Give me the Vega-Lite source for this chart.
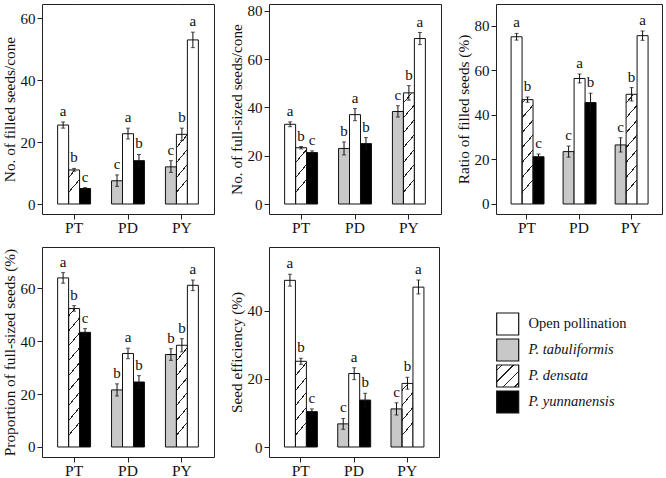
{
"$schema": "https://vega.github.io/schema/vega-lite/v6.json",
"padding": {"left": 1, "top": 3, "right": 0, "bottom": 0},
"background": "white",
"datasets": {
"d": [
{"panel":1,"grp":"PT","slot":"tab","trt":"Open pollination","mean":25.5,"lo":24.5,"hi":26.5,"letter":"a"},
{"panel":1,"grp":"PT","slot":"den","trt":"P. densata","mean":11,"lo":10.6,"hi":11.5,"letter":"b"},
{"panel":1,"grp":"PT","slot":"yun","trt":"P. yunnanensis","mean":5,"lo":4.7,"hi":5.3,"letter":"c"},
{"panel":1,"grp":"PD","slot":"tab","trt":"P. tabuliformis","mean":7.5,"lo":5.7,"hi":9.4,"letter":"c"},
{"panel":1,"grp":"PD","slot":"den","trt":"Open pollination","mean":22.7,"lo":21,"hi":24.5,"letter":"a"},
{"panel":1,"grp":"PD","slot":"yun","trt":"P. yunnanensis","mean":14,"lo":12,"hi":16,"letter":"b"},
{"panel":1,"grp":"PY","slot":"tab","trt":"P. tabuliformis","mean":12,"lo":10.2,"hi":14,"letter":"c"},
{"panel":1,"grp":"PY","slot":"den","trt":"P. densata","mean":22.5,"lo":20.5,"hi":24.5,"letter":"b"},
{"panel":1,"grp":"PY","slot":"yun","trt":"Open pollination","mean":53,"lo":50.5,"hi":55.5,"letter":"a"},
{"panel":2,"grp":"PT","slot":"tab","trt":"Open pollination","mean":33,"lo":32,"hi":34,"letter":"a"},
{"panel":2,"grp":"PT","slot":"den","trt":"P. densata","mean":23.3,"lo":22.8,"hi":23.8,"letter":"b"},
{"panel":2,"grp":"PT","slot":"yun","trt":"P. yunnanensis","mean":21.3,"lo":20.7,"hi":22,"letter":"c"},
{"panel":2,"grp":"PD","slot":"tab","trt":"P. tabuliformis","mean":23,"lo":20.3,"hi":25.7,"letter":"b"},
{"panel":2,"grp":"PD","slot":"den","trt":"Open pollination","mean":37,"lo":34.5,"hi":39.5,"letter":"a"},
{"panel":2,"grp":"PD","slot":"yun","trt":"P. yunnanensis","mean":25,"lo":22.5,"hi":27.5,"letter":"b"},
{"panel":2,"grp":"PY","slot":"tab","trt":"P. tabuliformis","mean":38.3,"lo":36,"hi":40.7,"letter":"c"},
{"panel":2,"grp":"PY","slot":"den","trt":"P. densata","mean":46,"lo":43,"hi":49,"letter":"b"},
{"panel":2,"grp":"PY","slot":"yun","trt":"Open pollination","mean":68.5,"lo":66,"hi":71,"letter":"a"},
{"panel":3,"grp":"PT","slot":"tab","trt":"Open pollination","mean":75,"lo":73.5,"hi":76.5,"letter":"a"},
{"panel":3,"grp":"PT","slot":"den","trt":"P. densata","mean":46.8,"lo":45.6,"hi":48,"letter":"b"},
{"panel":3,"grp":"PT","slot":"yun","trt":"P. yunnanensis","mean":21.2,"lo":20,"hi":22.4,"letter":"c"},
{"panel":3,"grp":"PD","slot":"tab","trt":"P. tabuliformis","mean":23.5,"lo":21,"hi":26,"letter":"c"},
{"panel":3,"grp":"PD","slot":"den","trt":"Open pollination","mean":56.3,"lo":54.3,"hi":58.3,"letter":"a"},
{"panel":3,"grp":"PD","slot":"yun","trt":"P. yunnanensis","mean":45.5,"lo":41.3,"hi":49.7,"letter":"b"},
{"panel":3,"grp":"PY","slot":"tab","trt":"P. tabuliformis","mean":26.5,"lo":23.3,"hi":29.7,"letter":"c"},
{"panel":3,"grp":"PY","slot":"den","trt":"P. densata","mean":49.2,"lo":46.2,"hi":52.2,"letter":"b"},
{"panel":3,"grp":"PY","slot":"yun","trt":"Open pollination","mean":75.5,"lo":73.4,"hi":77.6,"letter":"a"},
{"panel":4,"grp":"PT","slot":"tab","trt":"Open pollination","mean":64,"lo":62,"hi":66,"letter":"a"},
{"panel":4,"grp":"PT","slot":"den","trt":"P. densata","mean":52.4,"lo":51.4,"hi":53.5,"letter":"b"},
{"panel":4,"grp":"PT","slot":"yun","trt":"P. yunnanensis","mean":43.4,"lo":42,"hi":44.8,"letter":"c"},
{"panel":4,"grp":"PD","slot":"tab","trt":"P. tabuliformis","mean":21.6,"lo":19.3,"hi":23.9,"letter":"b"},
{"panel":4,"grp":"PD","slot":"den","trt":"Open pollination","mean":35.4,"lo":33.4,"hi":37.4,"letter":"a"},
{"panel":4,"grp":"PD","slot":"yun","trt":"P. yunnanensis","mean":24.6,"lo":22.3,"hi":27,"letter":"b"},
{"panel":4,"grp":"PY","slot":"tab","trt":"P. tabuliformis","mean":35,"lo":32.8,"hi":37.2,"letter":"b"},
{"panel":4,"grp":"PY","slot":"den","trt":"P. densata","mean":38.5,"lo":36,"hi":41,"letter":"b"},
{"panel":4,"grp":"PY","slot":"yun","trt":"Open pollination","mean":61.2,"lo":59.2,"hi":63.2,"letter":"a"},
{"panel":5,"grp":"PT","slot":"tab","trt":"Open pollination","mean":49,"lo":47.3,"hi":50.8,"letter":"a"},
{"panel":5,"grp":"PT","slot":"den","trt":"P. densata","mean":25.2,"lo":24.3,"hi":26.1,"letter":"b"},
{"panel":5,"grp":"PT","slot":"yun","trt":"P. yunnanensis","mean":10.4,"lo":9.6,"hi":11.2,"letter":"c"},
{"panel":5,"grp":"PD","slot":"tab","trt":"P. tabuliformis","mean":6.8,"lo":5.2,"hi":8.4,"letter":"c"},
{"panel":5,"grp":"PD","slot":"den","trt":"Open pollination","mean":21.6,"lo":19.8,"hi":23.3,"letter":"a"},
{"panel":5,"grp":"PD","slot":"yun","trt":"P. yunnanensis","mean":13.8,"lo":11.8,"hi":15.8,"letter":"b"},
{"panel":5,"grp":"PY","slot":"tab","trt":"P. tabuliformis","mean":11.2,"lo":9.4,"hi":13,"letter":"c"},
{"panel":5,"grp":"PY","slot":"den","trt":"P. densata","mean":18.7,"lo":17,"hi":20.5,"letter":"b"},
{"panel":5,"grp":"PY","slot":"yun","trt":"Open pollination","mean":47,"lo":45,"hi":49.1,"letter":"a"}
],
"legend": [
{"trt":"Open pollination"},{"trt":"P. tabuliformis"},{"trt":"P. densata"},{"trt":"P. yunnanensis"}
]
},
"spacing": 10,
"vconcat": [
{"spacing": 13, "hconcat": [
{
"width": 172, "height": 210,
"data": {"name": "d"},
"transform": [{"filter": "datum.panel == 1"}],
"encoding": {
"x": {"field": "grp", "type": "nominal", "scale": {"domain": ["PT","PD","PY"], "paddingInner": 0.389, "paddingOuter": 0.29}, "axis": {"title": null}},
"xOffset": {"field": "slot", "type": "nominal", "scale": {"domain": ["tab","den","yun"], "paddingInner": 0, "paddingOuter": 0}}
},
"layer": [
{"transform": [{"filter": "datum.trt == 'P. densata'"}],
"mark": {"type": "bar", "stroke": null, "fill": {"gradient": "linear", "x1": 0, "y1": 0, "x2": 0.066, "y2": 1, "stops": [{"offset":0,"color":"#ffffff"},{"offset":0.034,"color":"#ffffff"},{"offset":0.034,"color":"#222222"},{"offset":0.041,"color":"#222222"},{"offset":0.041,"color":"#ffffff"},{"offset":0.109,"color":"#ffffff"},{"offset":0.109,"color":"#222222"},{"offset":0.116,"color":"#222222"},{"offset":0.116,"color":"#ffffff"},{"offset":0.184,"color":"#ffffff"},{"offset":0.184,"color":"#222222"},{"offset":0.191,"color":"#222222"},{"offset":0.191,"color":"#ffffff"},{"offset":0.259,"color":"#ffffff"},{"offset":0.259,"color":"#222222"},{"offset":0.266,"color":"#222222"},{"offset":0.266,"color":"#ffffff"},{"offset":0.334,"color":"#ffffff"},{"offset":0.334,"color":"#222222"},{"offset":0.341,"color":"#222222"},{"offset":0.341,"color":"#ffffff"},{"offset":0.409,"color":"#ffffff"},{"offset":0.409,"color":"#222222"},{"offset":0.416,"color":"#222222"},{"offset":0.416,"color":"#ffffff"},{"offset":0.484,"color":"#ffffff"},{"offset":0.484,"color":"#222222"},{"offset":0.491,"color":"#222222"},{"offset":0.491,"color":"#ffffff"},{"offset":0.559,"color":"#ffffff"},{"offset":0.559,"color":"#222222"},{"offset":0.566,"color":"#222222"},{"offset":0.566,"color":"#ffffff"},{"offset":0.634,"color":"#ffffff"},{"offset":0.634,"color":"#222222"},{"offset":0.641,"color":"#222222"},{"offset":0.641,"color":"#ffffff"},{"offset":0.709,"color":"#ffffff"},{"offset":0.709,"color":"#222222"},{"offset":0.716,"color":"#222222"},{"offset":0.716,"color":"#ffffff"},{"offset":0.784,"color":"#ffffff"},{"offset":0.784,"color":"#222222"},{"offset":0.791,"color":"#222222"},{"offset":0.791,"color":"#ffffff"},{"offset":0.859,"color":"#ffffff"},{"offset":0.859,"color":"#222222"},{"offset":0.866,"color":"#222222"},{"offset":0.866,"color":"#ffffff"},{"offset":0.934,"color":"#ffffff"},{"offset":0.934,"color":"#222222"},{"offset":0.941,"color":"#222222"},{"offset":0.941,"color":"#ffffff"},{"offset":1,"color":"#ffffff"}]}},
"encoding": {"y": {"datum": 0, "type": "quantitative", "title": "No. of filled seeds/cone", "scale": {"domain": [-3.23, 64.6], "nice": false, "zero": false}, "axis": {"values": [0,20,40,60]}}, "y2": {"datum": 64.0}}},
{"transform": [{"filter": "datum.trt == 'P. densata'"}],
"mark": {"type": "bar", "fill": "#ffffff", "stroke": "#ffffff", "strokeWidth": 1},
"encoding": {"y": {"field": "mean", "type": "quantitative", "title": "No. of filled seeds/cone"}, "y2": {"datum": 64.0}}},
{"mark": {"type": "bar", "stroke": "#111111", "strokeWidth": 1},
"encoding": {"y": {"field": "mean", "type": "quantitative", "title": "No. of filled seeds/cone"}, "y2": {"datum": 0},
"fill": {"field": "trt", "type": "nominal", "scale": {"domain": ["Open pollination","P. tabuliformis","P. densata","P. yunnanensis"], "range": ["#ffffff","#c8c8c8","transparent","#000000"]}, "legend": null}}},
{"mark": {"type": "rule", "color": "#111111", "strokeWidth": 1},
"encoding": {"y": {"field": "lo", "type": "quantitative", "title": "No. of filled seeds/cone"}, "y2": {"field": "hi"}}},
{"mark": {"type": "tick", "orient": "horizontal", "size": 4, "thickness": 1, "color": "#111111"},
"encoding": {"y": {"field": "hi", "type": "quantitative", "title": "No. of filled seeds/cone"}}},
{"mark": {"type": "tick", "orient": "horizontal", "size": 4, "thickness": 1, "color": "#111111"},
"encoding": {"y": {"field": "lo", "type": "quantitative", "title": "No. of filled seeds/cone"}}},
{"mark": {"type": "text", "dy": -6, "fontSize": 15, "baseline": "alphabetic", "fill": "#111111"},
"encoding": {"y": {"field": "hi", "type": "quantitative", "title": "No. of filled seeds/cone"}, "text": {"field": "letter"}}}
]
},
{
"width": 172, "height": 210,
"data": {"name": "d"},
"transform": [{"filter": "datum.panel == 2"}],
"encoding": {
"x": {"field": "grp", "type": "nominal", "scale": {"domain": ["PT","PD","PY"], "paddingInner": 0.389, "paddingOuter": 0.29}, "axis": {"title": null}},
"xOffset": {"field": "slot", "type": "nominal", "scale": {"domain": ["tab","den","yun"], "paddingInner": 0, "paddingOuter": 0}}
},
"layer": [
{"transform": [{"filter": "datum.trt == 'P. densata'"}],
"mark": {"type": "bar", "stroke": null, "fill": {"gradient": "linear", "x1": 0, "y1": 0, "x2": 0.066, "y2": 1, "stops": [{"offset":0,"color":"#ffffff"},{"offset":0.034,"color":"#ffffff"},{"offset":0.034,"color":"#222222"},{"offset":0.041,"color":"#222222"},{"offset":0.041,"color":"#ffffff"},{"offset":0.109,"color":"#ffffff"},{"offset":0.109,"color":"#222222"},{"offset":0.116,"color":"#222222"},{"offset":0.116,"color":"#ffffff"},{"offset":0.184,"color":"#ffffff"},{"offset":0.184,"color":"#222222"},{"offset":0.191,"color":"#222222"},{"offset":0.191,"color":"#ffffff"},{"offset":0.259,"color":"#ffffff"},{"offset":0.259,"color":"#222222"},{"offset":0.266,"color":"#222222"},{"offset":0.266,"color":"#ffffff"},{"offset":0.334,"color":"#ffffff"},{"offset":0.334,"color":"#222222"},{"offset":0.341,"color":"#222222"},{"offset":0.341,"color":"#ffffff"},{"offset":0.409,"color":"#ffffff"},{"offset":0.409,"color":"#222222"},{"offset":0.416,"color":"#222222"},{"offset":0.416,"color":"#ffffff"},{"offset":0.484,"color":"#ffffff"},{"offset":0.484,"color":"#222222"},{"offset":0.491,"color":"#222222"},{"offset":0.491,"color":"#ffffff"},{"offset":0.559,"color":"#ffffff"},{"offset":0.559,"color":"#222222"},{"offset":0.566,"color":"#222222"},{"offset":0.566,"color":"#ffffff"},{"offset":0.634,"color":"#ffffff"},{"offset":0.634,"color":"#222222"},{"offset":0.641,"color":"#222222"},{"offset":0.641,"color":"#ffffff"},{"offset":0.709,"color":"#ffffff"},{"offset":0.709,"color":"#222222"},{"offset":0.716,"color":"#222222"},{"offset":0.716,"color":"#ffffff"},{"offset":0.784,"color":"#ffffff"},{"offset":0.784,"color":"#222222"},{"offset":0.791,"color":"#222222"},{"offset":0.791,"color":"#ffffff"},{"offset":0.859,"color":"#ffffff"},{"offset":0.859,"color":"#222222"},{"offset":0.866,"color":"#222222"},{"offset":0.866,"color":"#ffffff"},{"offset":0.934,"color":"#ffffff"},{"offset":0.934,"color":"#222222"},{"offset":0.941,"color":"#222222"},{"offset":0.941,"color":"#ffffff"},{"offset":1,"color":"#ffffff"}]}},
"encoding": {"y": {"datum": 0, "type": "quantitative", "title": "No. of full-sized seeds/cone", "scale": {"domain": [-4.14, 82.8], "nice": false, "zero": false}, "axis": {"values": [0,20,40,60,80]}}, "y2": {"datum": 82.0}}},
{"transform": [{"filter": "datum.trt == 'P. densata'"}],
"mark": {"type": "bar", "fill": "#ffffff", "stroke": "#ffffff", "strokeWidth": 1},
"encoding": {"y": {"field": "mean", "type": "quantitative", "title": "No. of full-sized seeds/cone"}, "y2": {"datum": 82.0}}},
{"mark": {"type": "bar", "stroke": "#111111", "strokeWidth": 1},
"encoding": {"y": {"field": "mean", "type": "quantitative", "title": "No. of full-sized seeds/cone"}, "y2": {"datum": 0},
"fill": {"field": "trt", "type": "nominal", "scale": {"domain": ["Open pollination","P. tabuliformis","P. densata","P. yunnanensis"], "range": ["#ffffff","#c8c8c8","transparent","#000000"]}, "legend": null}}},
{"mark": {"type": "rule", "color": "#111111", "strokeWidth": 1},
"encoding": {"y": {"field": "lo", "type": "quantitative", "title": "No. of full-sized seeds/cone"}, "y2": {"field": "hi"}}},
{"mark": {"type": "tick", "orient": "horizontal", "size": 4, "thickness": 1, "color": "#111111"},
"encoding": {"y": {"field": "hi", "type": "quantitative", "title": "No. of full-sized seeds/cone"}}},
{"mark": {"type": "tick", "orient": "horizontal", "size": 4, "thickness": 1, "color": "#111111"},
"encoding": {"y": {"field": "lo", "type": "quantitative", "title": "No. of full-sized seeds/cone"}}},
{"mark": {"type": "text", "dy": -6, "fontSize": 15, "baseline": "alphabetic", "fill": "#111111"},
"encoding": {"y": {"field": "hi", "type": "quantitative", "title": "No. of full-sized seeds/cone"}, "text": {"field": "letter"}}}
]
},
{
"width": 166, "height": 210,
"data": {"name": "d"},
"transform": [{"filter": "datum.panel == 3"}],
"encoding": {
"x": {"field": "grp", "type": "nominal", "scale": {"domain": ["PT","PD","PY"], "paddingInner": 0.389, "paddingOuter": 0.29}, "axis": {"title": null}},
"xOffset": {"field": "slot", "type": "nominal", "scale": {"domain": ["tab","den","yun"], "paddingInner": 0, "paddingOuter": 0}}
},
"layer": [
{"transform": [{"filter": "datum.trt == 'P. densata'"}],
"mark": {"type": "bar", "stroke": null, "fill": {"gradient": "linear", "x1": 0, "y1": 0, "x2": 0.064, "y2": 1, "stops": [{"offset":0,"color":"#ffffff"},{"offset":0.034,"color":"#ffffff"},{"offset":0.034,"color":"#222222"},{"offset":0.041,"color":"#222222"},{"offset":0.041,"color":"#ffffff"},{"offset":0.109,"color":"#ffffff"},{"offset":0.109,"color":"#222222"},{"offset":0.116,"color":"#222222"},{"offset":0.116,"color":"#ffffff"},{"offset":0.184,"color":"#ffffff"},{"offset":0.184,"color":"#222222"},{"offset":0.191,"color":"#222222"},{"offset":0.191,"color":"#ffffff"},{"offset":0.259,"color":"#ffffff"},{"offset":0.259,"color":"#222222"},{"offset":0.266,"color":"#222222"},{"offset":0.266,"color":"#ffffff"},{"offset":0.334,"color":"#ffffff"},{"offset":0.334,"color":"#222222"},{"offset":0.341,"color":"#222222"},{"offset":0.341,"color":"#ffffff"},{"offset":0.409,"color":"#ffffff"},{"offset":0.409,"color":"#222222"},{"offset":0.416,"color":"#222222"},{"offset":0.416,"color":"#ffffff"},{"offset":0.484,"color":"#ffffff"},{"offset":0.484,"color":"#222222"},{"offset":0.491,"color":"#222222"},{"offset":0.491,"color":"#ffffff"},{"offset":0.559,"color":"#ffffff"},{"offset":0.559,"color":"#222222"},{"offset":0.566,"color":"#222222"},{"offset":0.566,"color":"#ffffff"},{"offset":0.634,"color":"#ffffff"},{"offset":0.634,"color":"#222222"},{"offset":0.641,"color":"#222222"},{"offset":0.641,"color":"#ffffff"},{"offset":0.709,"color":"#ffffff"},{"offset":0.709,"color":"#222222"},{"offset":0.716,"color":"#222222"},{"offset":0.716,"color":"#ffffff"},{"offset":0.784,"color":"#ffffff"},{"offset":0.784,"color":"#222222"},{"offset":0.791,"color":"#222222"},{"offset":0.791,"color":"#ffffff"},{"offset":0.859,"color":"#ffffff"},{"offset":0.859,"color":"#222222"},{"offset":0.866,"color":"#222222"},{"offset":0.866,"color":"#ffffff"},{"offset":0.934,"color":"#ffffff"},{"offset":0.934,"color":"#222222"},{"offset":0.941,"color":"#222222"},{"offset":0.941,"color":"#ffffff"},{"offset":1,"color":"#ffffff"}]}},
"encoding": {"y": {"datum": 0, "type": "quantitative", "title": "Ratio of filled seeds (%)", "scale": {"domain": [-4.49, 89.7], "nice": false, "zero": false}, "axis": {"values": [0,20,40,60,80]}}, "y2": {"datum": 88.8}}},
{"transform": [{"filter": "datum.trt == 'P. densata'"}],
"mark": {"type": "bar", "fill": "#ffffff", "stroke": "#ffffff", "strokeWidth": 1},
"encoding": {"y": {"field": "mean", "type": "quantitative", "title": "Ratio of filled seeds (%)"}, "y2": {"datum": 88.8}}},
{"mark": {"type": "bar", "stroke": "#111111", "strokeWidth": 1},
"encoding": {"y": {"field": "mean", "type": "quantitative", "title": "Ratio of filled seeds (%)"}, "y2": {"datum": 0},
"fill": {"field": "trt", "type": "nominal", "scale": {"domain": ["Open pollination","P. tabuliformis","P. densata","P. yunnanensis"], "range": ["#ffffff","#c8c8c8","transparent","#000000"]}, "legend": null}}},
{"mark": {"type": "rule", "color": "#111111", "strokeWidth": 1},
"encoding": {"y": {"field": "lo", "type": "quantitative", "title": "Ratio of filled seeds (%)"}, "y2": {"field": "hi"}}},
{"mark": {"type": "tick", "orient": "horizontal", "size": 4, "thickness": 1, "color": "#111111"},
"encoding": {"y": {"field": "hi", "type": "quantitative", "title": "Ratio of filled seeds (%)"}}},
{"mark": {"type": "tick", "orient": "horizontal", "size": 4, "thickness": 1, "color": "#111111"},
"encoding": {"y": {"field": "lo", "type": "quantitative", "title": "Ratio of filled seeds (%)"}}},
{"mark": {"type": "text", "dy": -6, "fontSize": 15, "baseline": "alphabetic", "fill": "#111111"},
"encoding": {"y": {"field": "hi", "type": "quantitative", "title": "Ratio of filled seeds (%)"}, "text": {"field": "letter"}}}
]
}
]},
{"spacing": 13, "hconcat": [
{
"width": 172, "height": 210,
"data": {"name": "d"},
"transform": [{"filter": "datum.panel == 4"}],
"encoding": {
"x": {"field": "grp", "type": "nominal", "scale": {"domain": ["PT","PD","PY"], "paddingInner": 0.389, "paddingOuter": 0.29}, "axis": {"title": null}},
"xOffset": {"field": "slot", "type": "nominal", "scale": {"domain": ["tab","den","yun"], "paddingInner": 0, "paddingOuter": 0}}
},
"layer": [
{"transform": [{"filter": "datum.trt == 'P. densata'"}],
"mark": {"type": "bar", "stroke": null, "fill": {"gradient": "linear", "x1": 0, "y1": 0, "x2": 0.066, "y2": 1, "stops": [{"offset":0,"color":"#ffffff"},{"offset":0.034,"color":"#ffffff"},{"offset":0.034,"color":"#222222"},{"offset":0.041,"color":"#222222"},{"offset":0.041,"color":"#ffffff"},{"offset":0.109,"color":"#ffffff"},{"offset":0.109,"color":"#222222"},{"offset":0.116,"color":"#222222"},{"offset":0.116,"color":"#ffffff"},{"offset":0.184,"color":"#ffffff"},{"offset":0.184,"color":"#222222"},{"offset":0.191,"color":"#222222"},{"offset":0.191,"color":"#ffffff"},{"offset":0.259,"color":"#ffffff"},{"offset":0.259,"color":"#222222"},{"offset":0.266,"color":"#222222"},{"offset":0.266,"color":"#ffffff"},{"offset":0.334,"color":"#ffffff"},{"offset":0.334,"color":"#222222"},{"offset":0.341,"color":"#222222"},{"offset":0.341,"color":"#ffffff"},{"offset":0.409,"color":"#ffffff"},{"offset":0.409,"color":"#222222"},{"offset":0.416,"color":"#222222"},{"offset":0.416,"color":"#ffffff"},{"offset":0.484,"color":"#ffffff"},{"offset":0.484,"color":"#222222"},{"offset":0.491,"color":"#222222"},{"offset":0.491,"color":"#ffffff"},{"offset":0.559,"color":"#ffffff"},{"offset":0.559,"color":"#222222"},{"offset":0.566,"color":"#222222"},{"offset":0.566,"color":"#ffffff"},{"offset":0.634,"color":"#ffffff"},{"offset":0.634,"color":"#222222"},{"offset":0.641,"color":"#222222"},{"offset":0.641,"color":"#ffffff"},{"offset":0.709,"color":"#ffffff"},{"offset":0.709,"color":"#222222"},{"offset":0.716,"color":"#222222"},{"offset":0.716,"color":"#ffffff"},{"offset":0.784,"color":"#ffffff"},{"offset":0.784,"color":"#222222"},{"offset":0.791,"color":"#222222"},{"offset":0.791,"color":"#ffffff"},{"offset":0.859,"color":"#ffffff"},{"offset":0.859,"color":"#222222"},{"offset":0.866,"color":"#222222"},{"offset":0.866,"color":"#ffffff"},{"offset":0.934,"color":"#ffffff"},{"offset":0.934,"color":"#222222"},{"offset":0.941,"color":"#222222"},{"offset":0.941,"color":"#ffffff"},{"offset":1,"color":"#ffffff"}]}},
"encoding": {"y": {"datum": 0, "type": "quantitative", "title": "Proportion of full-sized seeds (%)", "scale": {"domain": [-3.79, 75.7], "nice": false, "zero": false}, "axis": {"values": [0,20,40,60]}}, "y2": {"datum": 75.0}}},
{"transform": [{"filter": "datum.trt == 'P. densata'"}],
"mark": {"type": "bar", "fill": "#ffffff", "stroke": "#ffffff", "strokeWidth": 1},
"encoding": {"y": {"field": "mean", "type": "quantitative", "title": "Proportion of full-sized seeds (%)"}, "y2": {"datum": 75.0}}},
{"mark": {"type": "bar", "stroke": "#111111", "strokeWidth": 1},
"encoding": {"y": {"field": "mean", "type": "quantitative", "title": "Proportion of full-sized seeds (%)"}, "y2": {"datum": 0},
"fill": {"field": "trt", "type": "nominal", "scale": {"domain": ["Open pollination","P. tabuliformis","P. densata","P. yunnanensis"], "range": ["#ffffff","#c8c8c8","transparent","#000000"]}, "legend": null}}},
{"mark": {"type": "rule", "color": "#111111", "strokeWidth": 1},
"encoding": {"y": {"field": "lo", "type": "quantitative", "title": "Proportion of full-sized seeds (%)"}, "y2": {"field": "hi"}}},
{"mark": {"type": "tick", "orient": "horizontal", "size": 4, "thickness": 1, "color": "#111111"},
"encoding": {"y": {"field": "hi", "type": "quantitative", "title": "Proportion of full-sized seeds (%)"}}},
{"mark": {"type": "tick", "orient": "horizontal", "size": 4, "thickness": 1, "color": "#111111"},
"encoding": {"y": {"field": "lo", "type": "quantitative", "title": "Proportion of full-sized seeds (%)"}}},
{"mark": {"type": "text", "dy": -6, "fontSize": 15, "baseline": "alphabetic", "fill": "#111111"},
"encoding": {"y": {"field": "hi", "type": "quantitative", "title": "Proportion of full-sized seeds (%)"}, "text": {"field": "letter"}}}
]
},
{
"width": 170, "height": 210,
"data": {"name": "d"},
"transform": [{"filter": "datum.panel == 5"}],
"encoding": {
"x": {"field": "grp", "type": "nominal", "scale": {"domain": ["PT","PD","PY"], "paddingInner": 0.389, "paddingOuter": 0.29}, "axis": {"title": null}},
"xOffset": {"field": "slot", "type": "nominal", "scale": {"domain": ["tab","den","yun"], "paddingInner": 0, "paddingOuter": 0}}
},
"layer": [
{"transform": [{"filter": "datum.trt == 'P. densata'"}],
"mark": {"type": "bar", "stroke": null, "fill": {"gradient": "linear", "x1": 0, "y1": 0, "x2": 0.066, "y2": 1, "stops": [{"offset":0,"color":"#ffffff"},{"offset":0.034,"color":"#ffffff"},{"offset":0.034,"color":"#222222"},{"offset":0.041,"color":"#222222"},{"offset":0.041,"color":"#ffffff"},{"offset":0.109,"color":"#ffffff"},{"offset":0.109,"color":"#222222"},{"offset":0.116,"color":"#222222"},{"offset":0.116,"color":"#ffffff"},{"offset":0.184,"color":"#ffffff"},{"offset":0.184,"color":"#222222"},{"offset":0.191,"color":"#222222"},{"offset":0.191,"color":"#ffffff"},{"offset":0.259,"color":"#ffffff"},{"offset":0.259,"color":"#222222"},{"offset":0.266,"color":"#222222"},{"offset":0.266,"color":"#ffffff"},{"offset":0.334,"color":"#ffffff"},{"offset":0.334,"color":"#222222"},{"offset":0.341,"color":"#222222"},{"offset":0.341,"color":"#ffffff"},{"offset":0.409,"color":"#ffffff"},{"offset":0.409,"color":"#222222"},{"offset":0.416,"color":"#222222"},{"offset":0.416,"color":"#ffffff"},{"offset":0.484,"color":"#ffffff"},{"offset":0.484,"color":"#222222"},{"offset":0.491,"color":"#222222"},{"offset":0.491,"color":"#ffffff"},{"offset":0.559,"color":"#ffffff"},{"offset":0.559,"color":"#222222"},{"offset":0.566,"color":"#222222"},{"offset":0.566,"color":"#ffffff"},{"offset":0.634,"color":"#ffffff"},{"offset":0.634,"color":"#222222"},{"offset":0.641,"color":"#222222"},{"offset":0.641,"color":"#ffffff"},{"offset":0.709,"color":"#ffffff"},{"offset":0.709,"color":"#222222"},{"offset":0.716,"color":"#222222"},{"offset":0.716,"color":"#ffffff"},{"offset":0.784,"color":"#ffffff"},{"offset":0.784,"color":"#222222"},{"offset":0.791,"color":"#222222"},{"offset":0.791,"color":"#ffffff"},{"offset":0.859,"color":"#ffffff"},{"offset":0.859,"color":"#222222"},{"offset":0.866,"color":"#222222"},{"offset":0.866,"color":"#ffffff"},{"offset":0.934,"color":"#ffffff"},{"offset":0.934,"color":"#222222"},{"offset":0.941,"color":"#222222"},{"offset":0.941,"color":"#ffffff"},{"offset":1,"color":"#ffffff"}]}},
"encoding": {"y": {"datum": 0, "type": "quantitative", "title": "Seed efficiency (%)", "scale": {"domain": [-2.94, 58.8], "nice": false, "zero": false}, "axis": {"values": [0,20,40]}}, "y2": {"datum": 58.3}}},
{"transform": [{"filter": "datum.trt == 'P. densata'"}],
"mark": {"type": "bar", "fill": "#ffffff", "stroke": "#ffffff", "strokeWidth": 1},
"encoding": {"y": {"field": "mean", "type": "quantitative", "title": "Seed efficiency (%)"}, "y2": {"datum": 58.3}}},
{"mark": {"type": "bar", "stroke": "#111111", "strokeWidth": 1},
"encoding": {"y": {"field": "mean", "type": "quantitative", "title": "Seed efficiency (%)"}, "y2": {"datum": 0},
"fill": {"field": "trt", "type": "nominal", "scale": {"domain": ["Open pollination","P. tabuliformis","P. densata","P. yunnanensis"], "range": ["#ffffff","#c8c8c8","transparent","#000000"]}, "legend": null}}},
{"mark": {"type": "rule", "color": "#111111", "strokeWidth": 1},
"encoding": {"y": {"field": "lo", "type": "quantitative", "title": "Seed efficiency (%)"}, "y2": {"field": "hi"}}},
{"mark": {"type": "tick", "orient": "horizontal", "size": 4, "thickness": 1, "color": "#111111"},
"encoding": {"y": {"field": "hi", "type": "quantitative", "title": "Seed efficiency (%)"}}},
{"mark": {"type": "tick", "orient": "horizontal", "size": 4, "thickness": 1, "color": "#111111"},
"encoding": {"y": {"field": "lo", "type": "quantitative", "title": "Seed efficiency (%)"}}},
{"mark": {"type": "text", "dy": -6, "fontSize": 15, "baseline": "alphabetic", "fill": "#111111"},
"encoding": {"y": {"field": "hi", "type": "quantitative", "title": "Seed efficiency (%)"}, "text": {"field": "letter"}}}
]
},
{
"width": 200, "height": 232,
"view": {"stroke": null},
"data": {"name": "legend"},
"encoding": {
"y": {"field": "trt", "type": "nominal", "scale": {"type": "point", "domain": ["Open pollination","P. tabuliformis","P. densata","P. yunnanensis"], "range": [77, 155], "padding": 0}, "axis": null}
},
"layer": [
{"transform": [{"filter": "datum.trt != 'P. densata'"}],
"mark": {"type": "point", "shape": "square", "size": 484, "filled": true, "opacity": 1, "stroke": "#111111", "strokeWidth": 1.2},
"encoding": {"x": {"datum": 54.7, "type": "quantitative", "scale": {"domain": [0, 200], "nice": false}, "axis": null},
"fill": {"field": "trt", "type": "nominal", "scale": {"domain": ["Open pollination","P. tabuliformis","P. densata","P. yunnanensis"], "range": ["#ffffff","#c8c8c8","transparent","#000000"]}, "legend": null}}},
{"transform": [{"filter": "datum.trt == 'P. densata'"}],
"mark": {"type": "point", "shape": "square", "size": 484, "filled": true, "opacity": 1, "stroke": "#111111", "strokeWidth": 1.2,
"fill": {"gradient": "linear", "x1": 0, "y1": 0, "x2": 1, "y2": 1, "stops": [{"offset":0,"color":"#ffffff"},{"offset":0.1025,"color":"#ffffff"},{"offset":0.1025,"color":"#222222"},{"offset":0.1375,"color":"#222222"},{"offset":0.1375,"color":"#ffffff"},{"offset":0.3625,"color":"#ffffff"},{"offset":0.3625,"color":"#222222"},{"offset":0.3975,"color":"#222222"},{"offset":0.3975,"color":"#ffffff"},{"offset":0.6225,"color":"#ffffff"},{"offset":0.6225,"color":"#222222"},{"offset":0.6575,"color":"#222222"},{"offset":0.6575,"color":"#ffffff"},{"offset":0.8825,"color":"#ffffff"},{"offset":0.8825,"color":"#222222"},{"offset":0.9175,"color":"#222222"},{"offset":0.9175,"color":"#ffffff"},{"offset":1,"color":"#ffffff"}]}},
"encoding": {"x": {"datum": 54.7, "type": "quantitative"}}},
{"transform": [{"filter": "datum.trt == 'Open pollination'"}],
"mark": {"type": "text", "align": "left", "baseline": "middle", "fontSize": 14.5, "fill": "#111111"},
"encoding": {"x": {"datum": 75.6, "type": "quantitative"}, "text": {"field": "trt"}}},
{"transform": [{"filter": "datum.trt != 'Open pollination'"}],
"mark": {"type": "text", "align": "left", "baseline": "middle", "fontSize": 14.5, "fontStyle": "italic", "fill": "#111111"},
"encoding": {"x": {"datum": 75.6, "type": "quantitative"}, "text": {"field": "trt"}}}
]
}
]}
],
"config": {
"font": "Liberation Serif",
"view": {"stroke": "#222222", "strokeWidth": 1},
"axis": {"domain": false, "grid": false, "ticks": true, "tickColor": "#222222", "tickSize": 5, "tickWidth": 1, "labelFont": "Liberation Serif", "labelFontSize": 15, "labelColor": "#111111", "titleFont": "Liberation Serif", "titleFontSize": 15.3, "titleFontWeight": "normal", "titleColor": "#111111", "labelPadding": 2, "titlePadding": 3},
"axisX": {"labelAngle": 0, "labelFontSize": 15.5, "labelPadding": 1},
"text": {"font": "Liberation Serif"}
}
}
